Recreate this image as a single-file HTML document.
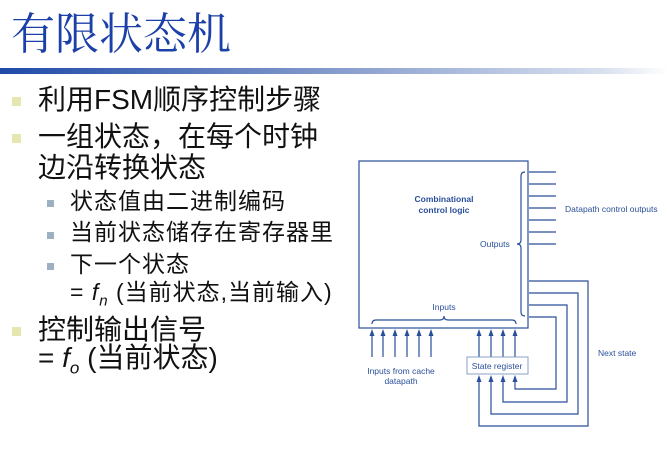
<!DOCTYPE html>
<html><head><meta charset="utf-8"><style>
body{margin:0;width:669px;height:471px;background:#fff;position:relative;overflow:hidden;font-family:"Liberation Sans","Noto Sans CJK SC",sans-serif}
.t{position:absolute;white-space:nowrap;color:#111;line-height:1}
.m{font-size:28px}
.s{font-size:23px;letter-spacing:1px}
.b1{position:absolute;width:9px;height:9px;background:#e6e6b0}
.b2{position:absolute;width:7px;height:7px;background:#9cb0c2}
</style></head><body>
<div class="t" style="left:11px;top:13px;font-size:44px;color:#1c40a8;font-family:'Liberation Serif','Noto Serif CJK SC',serif">有限状态机</div>
<div style="position:absolute;left:0;top:68px;width:669px;height:6px;background:linear-gradient(90deg,#1f4aa8,#7b93c8 45%,#d8e0ef 90%,#fff)"></div>

<div class="b1" style="left:12px;top:97px"></div>
<div class="t m" style="left:38px;top:86px">利用FSM顺序控制步骤</div>
<div class="b1" style="left:12px;top:134px"></div>
<div class="t m" style="left:38px;top:123px">一组状态，在每个时钟</div>
<div class="t m" style="left:38px;top:154px">边沿转换状态</div>
<div class="b2" style="left:47px;top:200px"></div>
<div class="t s" style="left:70px;top:190px">状态值由二进制编码</div>
<div class="b2" style="left:47px;top:232px"></div>
<div class="t s" style="left:70px;top:221px">当前状态储存在寄存器里</div>
<div class="b2" style="left:47px;top:263px"></div>
<div class="t s" style="left:70px;top:253px">下一个状态</div>
<div class="t s" style="left:70px;top:281px">= <i>f<sub style="font-size:15px">n</sub></i> (当前状态,当前输入)</div>
<div class="b1" style="left:12px;top:327px"></div>
<div class="t m" style="left:38px;top:316px">控制输出信号</div>
<div class="t m" style="left:38px;top:344px">= <i>f<sub style="font-size:17px">o</sub></i> (当前状态)</div>

<svg width="669" height="471" style="position:absolute;left:0;top:0" font-family="Liberation Sans,sans-serif" font-size="8.5" fill="#2a4f9a">
<g stroke="#2a4f9a" stroke-width="1.2" fill="none">
<rect x="359" y="161" width="169" height="167"/>
<path d="M525,172 q-4,0 -4,4 v64 q0,4 -4,4 q4,0 4,4 v64 q0,4 4,4"/>
<path d="M372,324 q0,-4 4,-4 h64 q4,0 4,-4 q0,4 4,4 h64 q4,0 4,4"/>
<path d="M529,172h27M529,184h27M529,196h27M529,208h27M529,220h27M529,232h27M529,244h27"/>
<path d="M529,281H588V426H479V378M529,293H578V414H491V378M529,305H567V402H503V378M529,317H556V389H515V378"/>
<path d="M372,357V333M383,357V333M395,357V333M407,357V333M419,357V333M431,357V333M479,357V333M491,357V333M503,357V333M515,357V333"/>
<rect x="467" y="357" width="61" height="17" fill="#fff" stroke="#8aa0c8" stroke-width="1"/>
</g>
<g fill="#2a4f9a">
<path d="M369.5,336L372,329L374.5,336ZM380.5,336L383,329L385.5,336ZM392.5,336L395,329L397.5,336ZM404.5,336L407,329L409.5,336ZM416.5,336L419,329L421.5,336ZM428.5,336L431,329L433.5,336Z"/>
<path d="M476.5,336L479,329L481.5,336ZM488.5,336L491,329L493.5,336ZM500.5,336L503,329L505.5,336ZM512.5,336L515,329L517.5,336Z"/>
<path d="M476.5,382L479,375L481.5,382ZM488.5,382L491,375L493.5,382ZM500.5,382L503,375L505.5,382ZM512.5,382L515,375L517.5,382Z"/>
</g>
<text x="444" y="202" text-anchor="middle" font-weight="bold">Combinational</text>
<text x="444" y="213" text-anchor="middle" font-weight="bold">control logic</text>
<text x="565" y="212">Datapath control outputs</text>
<text x="480" y="247">Outputs</text>
<text x="444" y="310" text-anchor="middle">Inputs</text>
<text x="497" y="369" text-anchor="middle">State register</text>
<text x="401" y="374" text-anchor="middle">Inputs from cache</text>
<text x="401" y="384" text-anchor="middle">datapath</text>
<text x="598" y="356">Next state</text>
</svg>
</body></html>
